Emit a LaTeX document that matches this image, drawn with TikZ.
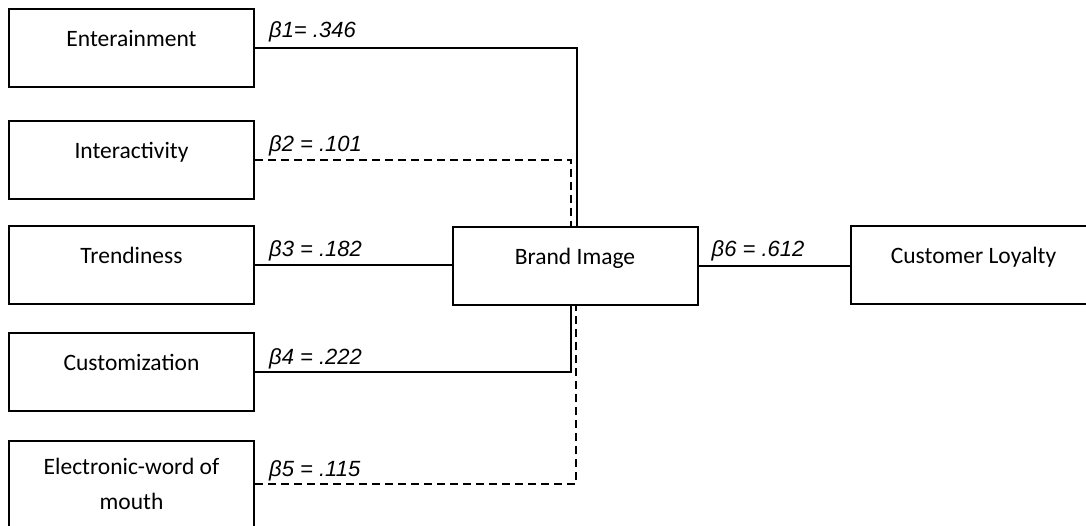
\documentclass[tikz,border=0pt]{standalone}
\usepackage{fontspec}
\setmainfont{Carlito}
\newfontfamily\coeffont{Liberation Sans}
\usetikzlibrary{positioning}

\tikzset{
  box/.style={draw, line width=2pt, minimum width=245pt, minimum height=78pt,
    inner sep=0pt, align=center, font=\fontsize{23.5}{35}\selectfont},
  factor/.style={box, text height=17pt, text depth=19.5pt},
  link/.style={line width=2pt},
  weak/.style={line width=2pt, dash pattern=on 8pt off 5pt},
  coef/.style={anchor=base west, inner sep=0pt, font=\coeffont\itshape\fontsize{22}{26}\selectfont}
}

\begin{document}
\begin{tikzpicture}[x=1pt,y=-1pt]

% Frame of the picture
\useasboundingbox (0,0) rectangle (1086,526);
\clip (0,0) rectangle (1086,526);

% Antecedents
\node[factor] (ent) at (131.5,48) {Enterainment};
\node[factor] (int) at (131.5,160) {Interactivity};
\node[factor] (tre) at (131.5,265) {Trendiness};
\node[factor] (cus) at (131.5,372) {Customization};
\node[box, minimum height=86pt] (ele) at (131.5,484) {Electronic-word of\\mouth};

% Mediator and outcome
\node[factor] (bra) at (575,266) {Brand Image};
\node[factor] (loy) at (973.5,265) {Customer Loyalty};

% Paths into Brand Image
\draw[link] (ent.east) -| ([xshift=2pt]bra.north);
\draw[weak] (int.east) -| ([xshift=-4pt]bra.north);
\draw[link] (tre.east) -- (tre.east -| bra.west);
\draw[link] (cus.east) -| ([xshift=-4pt]bra.south);
\draw[weak] (ele.east) -| ([xshift=1pt]bra.south);

% Path into Customer Loyalty
\draw[link] (bra.east) -- (bra.east -| loy.west);

% Coefficients
\node[coef] (b1) at ([xshift=14pt,yshift=10pt]ent.east) {β1= .346};
\node[coef] (b2) at ([xshift=14pt,yshift=8pt]int.east) {β2 = .101};
\node[coef] (b3) at ([xshift=14pt,yshift=8pt]tre.east) {β3 = .182};
\node[coef] (b4) at ([xshift=14pt,yshift=8pt]cus.east) {β4 = .222};
\node[coef] (b5) at ([xshift=14pt,yshift=8pt]ele.east) {β5 = .115};
\node[coef] (b6) at ([xshift=13pt,yshift=9pt]bra.east) {β6 = .612};

\end{tikzpicture}
\end{document}
